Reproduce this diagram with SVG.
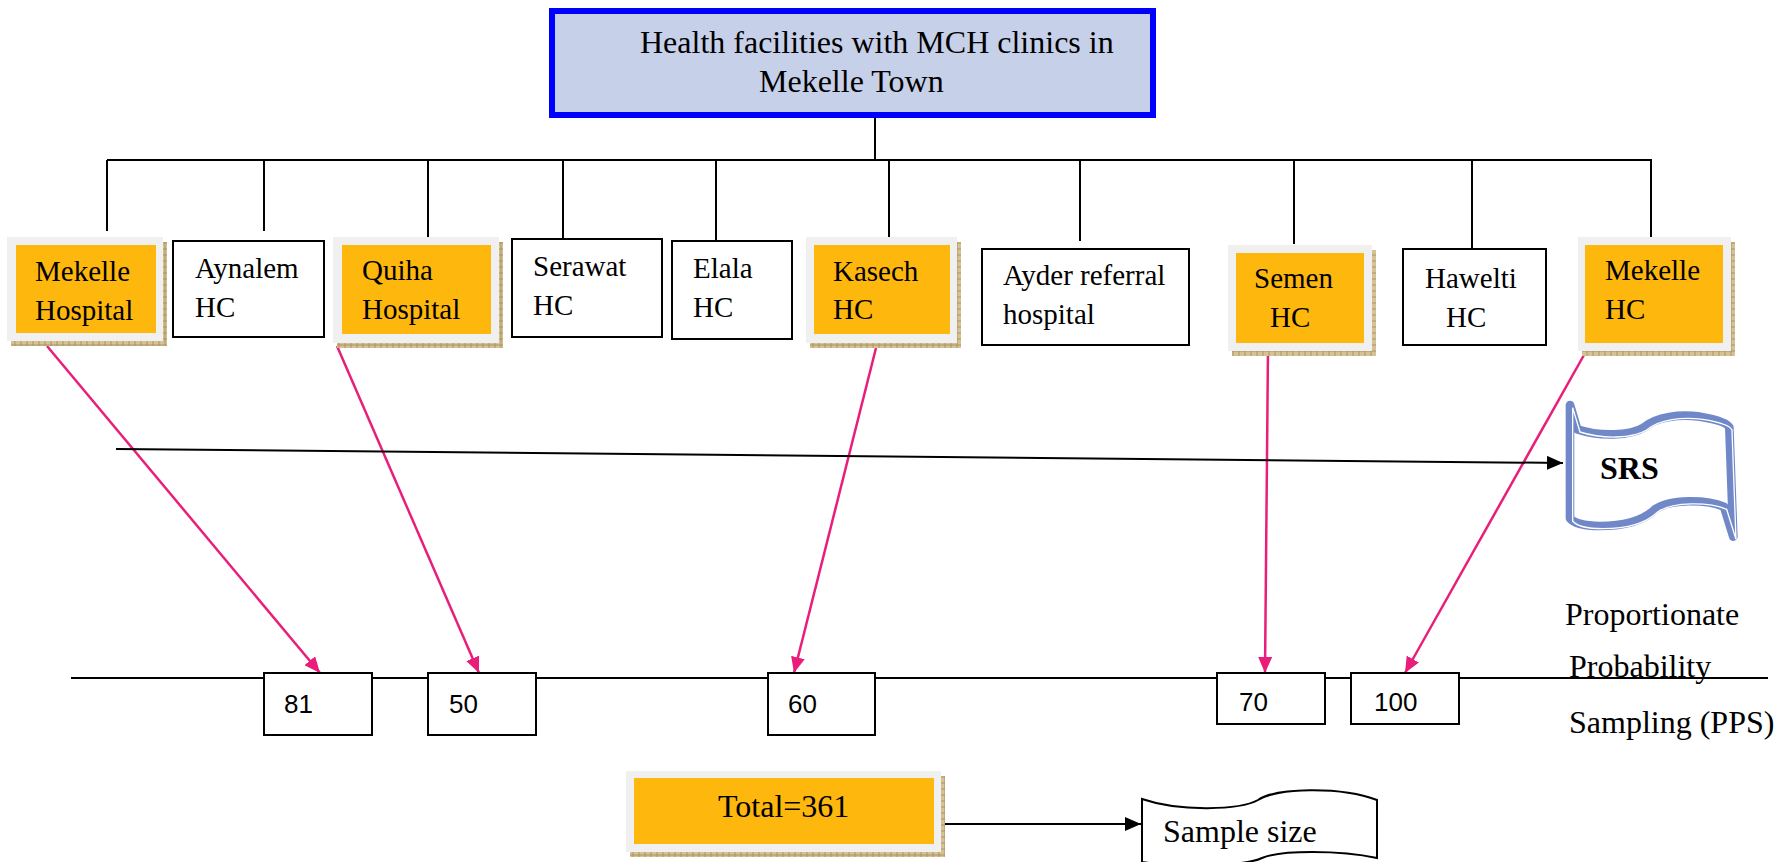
<svg xmlns="http://www.w3.org/2000/svg" width="1790" height="862" viewBox="0 0 1790 862">
<style>
.t{font-family:"Liberation Serif","Times New Roman",serif;font-size:29px;fill:#000}
.tt{font-family:"Liberation Serif","Times New Roman",serif;font-size:32px;fill:#000}
.n{font-family:"Liberation Sans",Arial,sans-serif;font-size:26px;fill:#000}
.box{fill:#fff;stroke:#000;stroke-width:2}
.frame{fill:#F0F0F0}
.org{fill:#FDB70D}
.shadow{fill:url(#hatch)}
.ln{stroke:#000;stroke-width:2;fill:none}
.pk{stroke:#E91E7A;stroke-width:2.5;fill:none;marker-end:url(#ap)}
</style>
<defs>
<pattern id="hatch" width="6" height="6" patternUnits="userSpaceOnUse"><rect width="6" height="6" fill="#D4C294"/><path d="M0 3H6M3 0V6" stroke="#A48A58" stroke-width="0.8"/></pattern>
<marker id="ap" markerWidth="16" markerHeight="14" refX="16" refY="7" orient="auto" markerUnits="userSpaceOnUse"><path d="M0,0 L16,7 L0,14 Z" fill="#E91E7A"/></marker>
<marker id="ab" markerWidth="16" markerHeight="14" refX="16" refY="7" orient="auto" markerUnits="userSpaceOnUse"><path d="M0,0 L16,7 L0,14 Z" fill="#000"/></marker>
</defs>
<rect width="1790" height="862" fill="#fff"/>

<g id="connectors">
<path class="ln" d="M875,118V160M107,160H1652M107,160V231M264,160V231M428,160V237M563,160V238M716,160V240M889,160V237M1080,160V241M1294,160V244M1472,160V248M1651,160V237"/>
<path class="ln" d="M71,678H1768"/>
<path class="pk" d="M47,346L320,673"/>
<path class="pk" d="M337,346L479,673"/>
<path class="pk" d="M876,348L794,673"/>
<path class="pk" d="M1268,348L1265,673"/>
<path class="pk" d="M1593,339L1405,673"/>
<path class="ln" d="M116,449L1563,463" marker-end="url(#ab)"/>
<path class="ln" d="M941,824H1141" marker-end="url(#ab)"/>
</g>

<g id="root">
<rect x="552" y="11" width="601" height="104" fill="#C7D0E9" stroke="#0000FF" stroke-width="6"/>
<text class="tt" x="640" y="53">Health facilities with MCH clinics in</text>
<text class="tt" x="759" y="92">Mekelle Town</text>
</g>

<g id="mekelle-hospital">
<rect class="shadow" x="11" y="242" width="156" height="104"/>
<rect class="frame" x="7" y="237" width="156" height="104"/>
<rect class="org" x="16" y="245" width="140" height="88"/>
<text class="t" x="35" y="281">Mekelle</text><text class="t" x="35" y="320">Hospital</text>
</g>
<g id="aynalem">
<rect class="box" x="173" y="241" width="151" height="96"/>
<text class="t" x="195" y="278">Aynalem</text><text class="t" x="195" y="317">HC</text>
</g>
<g id="quiha">
<rect class="shadow" x="337" y="242" width="166" height="106"/>
<rect class="frame" x="333" y="237" width="166" height="106"/>
<rect class="org" x="342" y="245" width="149" height="89"/>
<text class="t" x="362" y="280">Quiha</text><text class="t" x="362" y="319">Hospital</text>
</g>
<g id="serawat">
<rect class="box" x="512" y="239" width="150" height="98"/>
<text class="t" x="533" y="276">Serawat</text><text class="t" x="533" y="315">HC</text>
</g>
<g id="elala">
<rect class="box" x="672" y="241" width="120" height="98"/>
<text class="t" x="693" y="278">Elala</text><text class="t" x="693" y="317">HC</text>
</g>
<g id="kasech">
<rect class="shadow" x="810" y="242" width="151" height="106"/>
<rect class="frame" x="806" y="237" width="151" height="106"/>
<rect class="org" x="814" y="245" width="136" height="89"/>
<text class="t" x="833" y="281">Kasech</text><text class="t" x="833" y="319">HC</text>
</g>
<g id="ayder">
<rect class="box" x="982" y="249" width="207" height="96"/>
<text class="t" x="1003" y="285">Ayder referral</text><text class="t" x="1003" y="324">hospital</text>
</g>
<g id="semen">
<rect class="shadow" x="1232" y="250" width="144" height="106"/>
<rect class="frame" x="1228" y="245" width="144" height="106"/>
<rect class="org" x="1236" y="253" width="128" height="90"/>
<text class="t" x="1254" y="288">Semen</text><text class="t" x="1270" y="327">HC</text>
</g>
<g id="hawelti">
<rect class="box" x="1403" y="249" width="143" height="96"/>
<text class="t" x="1425" y="288">Hawelti</text><text class="t" x="1446" y="327">HC</text>
</g>
<g id="mekelle-hc">
<rect class="shadow" x="1582" y="242" width="153" height="114"/>
<rect class="frame" x="1578" y="237" width="153" height="114"/>
<rect class="org" x="1585" y="245" width="138" height="98"/>
<text class="t" x="1605" y="280">Mekelle</text><text class="t" x="1605" y="319">HC</text>
</g>

<g id="srs">
<g transform="translate(1520,390) scale(0.3333)">
<path d="M150,45 L172,118 C240,140 330,138 372,112 C410,80 480,72 540,80 C590,88 622,98 628,112 L640,440 L612,350 C560,328 450,326 405,358 C370,392 310,408 240,408 C190,408 160,398 150,385 Z" fill="#fff" stroke="#7088C8" stroke-width="26" stroke-linejoin="round"/>
<path d="M150,45 L172,118 C240,140 330,138 372,112 C410,80 480,72 540,80 C590,88 622,98 628,112 L640,440 L612,350 C560,328 450,326 405,358 C370,392 310,408 240,408 C190,408 160,398 150,385 Z" fill="none" stroke="#fff" stroke-width="4" transform="translate(8,8)"/>
</g>
<text x="1600" y="479" font-family="Liberation Serif,Times New Roman,serif" font-size="32" font-weight="bold">SRS</text>
</g>

<g id="pps-label">
<text class="tt" x="1565" y="625">Proportionate</text>
<text class="tt" x="1569" y="677">Probability</text>
<text class="tt" x="1569" y="733">Sampling (PPS)</text>
</g>

<g id="n81"><rect class="box" x="264" y="673" width="108" height="62"/><text class="n" x="284" y="713">81</text></g>
<g id="n50"><rect class="box" x="428" y="673" width="108" height="62"/><text class="n" x="449" y="713">50</text></g>
<g id="n60"><rect class="box" x="768" y="673" width="107" height="62"/><text class="n" x="788" y="713">60</text></g>
<g id="n70"><rect class="box" x="1217" y="673" width="108" height="51"/><text class="n" x="1239" y="711">70</text></g>
<g id="n100"><rect class="box" x="1351" y="673" width="108" height="51"/><text class="n" x="1374" y="711">100</text></g>

<g id="total">
<rect class="shadow" x="630" y="776" width="315" height="81"/>
<rect class="frame" x="626" y="771" width="315" height="81"/>
<rect class="org" x="634" y="778" width="300" height="66"/>
<text class="tt" x="718" y="817">Total=361</text>
</g>
<g id="sample-size">
<path d="M1142,799 C1180,812 1240,810 1258,800 C1275,788 1340,786 1377,800 L1377,858 C1340,850 1280,850 1262,858 C1245,866 1180,868 1142,862 Z" fill="#fff" stroke="#000" stroke-width="2"/>
<text class="tt" x="1163" y="842">Sample size</text>
</g>
</svg>
